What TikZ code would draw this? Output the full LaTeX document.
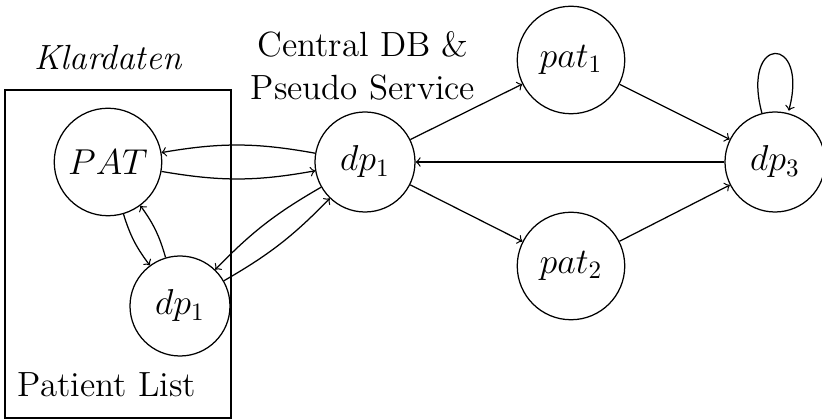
\documentclass[tikz,border=0pt]{standalone}
\usetikzlibrary{arrows}
\begin{document}
\begin{tikzpicture}[x=0.4pt,y=-0.4pt,line width=0.5pt,
  every node/.style={font=\fontsize{14}{15.2}\selectfont},
  state/.style={draw,circle,inner sep=0pt,minimum size=40pt},
  bigstate/.style={state,minimum size=43pt},
  lbl/.style={inner sep=0pt,align=center},
  conn/.style={->}]
\useasboundingbox (0,0) rectangle (822,419);
\node[draw,minimum width=90.4pt,minimum height=131.2pt,inner sep=0pt] (box) at (118,254) {};
\node[bigstate] (PAT) at (108,162) {$PAT$};
\node[state] (dpl) at (180,306) {$dp_1$};
\node[state] (dpc) at (365,162) {$dp_1$};
\node[bigstate] (pat1) at (571,60) {$pat_1$};
\node[bigstate] (pat2) at (571,266) {$pat_2$};
\node[state] (dp3) at (775,162) {$dp_3$};
\node[lbl] (klar) at (108,58) {\itshape Klardaten};
\node[lbl] (cdb) at (363,66) {Central DB \&\\[2pt] Pseudo Service};
\node[lbl] (plist) at (107,385) {Patient List};
\draw[conn] (dpc) to[bend right=10] (PAT);
\draw[conn] (PAT) to[bend right=10] (dpc);
\draw[conn] (PAT) to[bend right=10] (dpl);
\draw[conn] (dpl) to[bend right=10] (PAT);
\draw[conn] (dpc) to[bend right=8] (dpl);
\draw[conn] (dpl) to[bend right=8] (dpc);
\draw[conn] (dpc) -- (pat1);
\draw[conn] (dpc) -- (pat2);
\draw[conn] (pat1) -- (dp3);
\draw[conn] (pat2) -- (dp3);
\draw[conn] (dp3) -- (dpc);
\draw[conn] (dp3) edge[loop above] (dp3);
\end{tikzpicture}
\end{document}
